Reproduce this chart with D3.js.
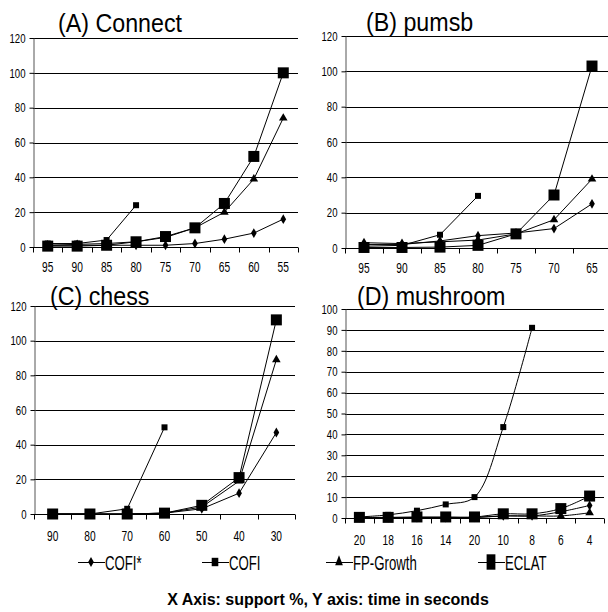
<!DOCTYPE html>
<html>
<head>
<meta charset="utf-8">
<script src="https://cdn.jsdelivr.net/npm/d3@7"></script>
<style>
  body { margin: 0; background: #fff; }
  svg { display: block; }
  text { font-family: "Liberation Sans", Arial, sans-serif; fill: #000; }
</style>
</head>
<body>
<svg id="chart" width="608" height="612"></svg>
<script>
// series names, same order in every panel
const seriesNames = ['COFI*', 'COFI', 'FP-Growth', 'ECLAT'];

// (A) Connect
const connectX = ['95', '90', '85', '80', '75', '70', '65', '60', '55'];
const connectCofiStar = [1, 1, 1, 1, 1, 2, 4.5, 8, 16];
const connectCofi = [2, 2, 4, 24];
const connectFp = [1, 1.5, 2, 3, 5.5, 11, 20, 39, 74];
const connectEclat = [0.5, 0.5, 1, 3, 6, 11, 25, 52, 100];

// (B) pumsb
const pumsbX = ['95', '90', '85', '80', '75', '70', '65'];
const pumsbCofiStar = [2, 2, 4, 7, 8.5, 11, 25];
const pumsbCofi = [1, 1.5, 7.5, 29.5];
const pumsbFp = [3, 2.5, 3.5, 4.5, 8, 16, 39];
const pumsbEclat = [0.3, 0.3, 0.5, 1.5, 8, 30, 103];

// (C) chess
const chessX = ['90', '80', '70', '60', '50', '40', '30'];
const chessCofiStar = [0, 0, 0, 0.5, 3, 12, 47];
const chessCofi = [0, 0, 3, 50];
const chessFp = [0, 0, 0, 0.5, 4, 19, 89];
const chessEclat = [0, 0, 0, 0.5, 5, 21, 112];

// (D) mushroom  (the fifth label really reads "20" in the original)
const mushroomX = ['20', '18', '16', '14', '20', '10', '8', '6', '4'];
const mushroomCofiStar = [0.2, 0.2, 0.2, 0.2, 0.3, 1, 1, 3, 6];
const mushroomCofi = [0.5, 1.5, 3.5, 6.5, 10, 43.5, 91];
const mushroomFp = [0.2, 0.2, 0.2, 0.2, 0.2, 1, 1, 1, 2.5];
const mushroomEclat = [0.3, 0.3, 0.5, 0.5, 0.5, 2, 2, 4.5, 10.5];

const ticks120 = [0, 20, 40, 60, 80, 100, 120];
const ticks100 = [0, 10, 20, 30, 40, 50, 60, 70, 80, 90, 100];

const svg = d3.select('#chart');

// marker shapes for each series
const markers = [
  { type: d3.symbolDiamond, size: 28 },
  { type: d3.symbolSquare, size: 36 },
  { type: d3.symbolTriangle, size: 32 },
  { type: d3.symbolSquare, size: 121 },
];

// text squeezed horizontally like the original picture
function squeezed(parent, x, y, str, size, sx, anchor, weight) {
  return parent.append('text')
    .attr('transform', `translate(${x},${y}) scale(${sx},1)`)
    .attr('text-anchor', anchor || 'start')
    .attr('font-size', size + 'px')
    .attr('font-weight', weight || 'normal')
    .text(str);
}

function drawPanel(p) {
  const g = svg.append('g');
  const x = d3.scaleBand().domain(d3.range(p.labels.length)).range([p.left, p.right]);
  const y = d3.scaleLinear().domain([0, p.ticks[p.ticks.length - 1]]).range([p.bottom, p.top]);
  const cx = (i) => x(i) + x.bandwidth() / 2;
  const y0 = Math.round(y(0)) + 0.5;

  // horizontal grid
  g.selectAll('line.grid')
    .data(p.ticks.filter((t) => t > 0))
    .join('line')
    .attr('class', 'grid')
    .attr('x1', p.left)
    .attr('x2', p.right)
    .attr('y1', (d) => Math.round(y(d)) + 0.5)
    .attr('y2', (d) => Math.round(y(d)) + 0.5)
    .attr('stroke', '#000')
    .attr('stroke-width', 1);

  // y axis
  const yAxis = d3.axisLeft(y).tickValues(p.ticks).tickSize(4).tickSizeOuter(0);
  const ya = g.append('g').attr('transform', `translate(${p.left + 0.5},0)`).call(yAxis);
  ya.attr('font-family', null).attr('font-size', null);
  ya.select('.domain').attr('stroke', '#555');
  ya.selectAll('.tick line').attr('stroke', '#000');
  ya.selectAll('.tick text')
    .attr('font-size', '12px')
    .attr('x', -8 / 0.8)
    .attr('dy', '0.35em')
    .attr('transform', 'scale(0.8,1)');

  // x axis: labels at band centres, ticks at band edges
  const xAxis = d3.axisBottom(x).tickFormat((i) => p.labels[i]).tickSize(0).tickSizeOuter(0);
  const xa = g.append('g').attr('transform', `translate(0,${y0})`).call(xAxis);
  xa.select('.domain').remove();
  xa.attr('font-family', null).attr('font-size', null);
  xa.selectAll('.tick text')
    .attr('font-size', '15px')
    .attr('y', p.labelDy)
    .attr('dy', '0.35em')
    .attr('transform', 'scale(0.68,1)');

  g.append('line')
    .attr('x1', p.left)
    .attr('x2', p.right)
    .attr('y1', y0)
    .attr('y2', y0)
    .attr('stroke', '#000');

  g.selectAll('line.xtick')
    .data(d3.range(p.labels.length + 1))
    .join('line')
    .attr('class', 'xtick')
    .attr('x1', (i) => Math.round(p.left + i * x.step()) + 0.5)
    .attr('x2', (i) => Math.round(p.left + i * x.step()) + 0.5)
    .attr('y1', y0)
    .attr('y2', y0 + 5)
    .attr('stroke', '#000');

  // series
  const line = d3.line()
    .x((d, i) => cx(i))
    .y((d) => y(d))
    .curve(p.curve);

  p.series.forEach((vals, s) => {
    g.append('path')
      .attr('d', line(vals))
      .attr('fill', 'none')
      .attr('stroke', '#000')
      .attr('stroke-width', 1);
    g.selectAll(null)
      .data(vals)
      .join('path')
      .attr('transform', (d, i) => `translate(${cx(i)},${y(d)})`)
      .attr('d', d3.symbol().type(markers[s].type).size(markers[s].size))
      .attr('fill', '#000');
  });

  // panel title
  squeezed(svg, p.titleX, p.titleY, p.title, 25, 0.93);
}

drawPanel({
  title: '(A) Connect', titleX: 58, titleY: 32,
  labels: connectX, ticks: ticks120,
  series: [connectCofiStar, connectCofi, connectFp, connectEclat],
  left: 33, right: 298, top: 38, bottom: 247, labelDy: 19, curve: d3.curveLinear,
});

drawPanel({
  title: '(B) pumsb', titleX: 366, titleY: 31,
  labels: pumsbX, ticks: ticks120,
  series: [pumsbCofiStar, pumsbCofi, pumsbFp, pumsbEclat],
  left: 345, right: 611, top: 36, bottom: 248, labelDy: 19, curve: d3.curveLinear,
});

drawPanel({
  title: '(C) chess', titleX: 50, titleY: 305,
  labels: chessX, ticks: ticks120,
  series: [chessCofiStar, chessCofi, chessFp, chessEclat],
  left: 34, right: 295, top: 306, bottom: 514, labelDy: 21, curve: d3.curveLinear,
});

drawPanel({
  title: '(D) mushroom', titleX: 357, titleY: 305,
  labels: mushroomX, ticks: ticks100,
  series: [mushroomCofiStar, mushroomCofi, mushroomFp, mushroomEclat],
  left: 345, right: 604, top: 309, bottom: 518, labelDy: 21, curve: d3.curveCatmullRom.alpha(0.5),
});

// legend
const legendY = 562;
const legendX = [78, 202, 326, 478];
const legendScale = [[1, 1], [1.1, 1.4], [0.9, 1.35], [0.8, 1.4]];
const legend = svg.append('g');
seriesNames.forEach((name, s) => {
  const lx = legendX[s];
  legend.append('line')
    .attr('x1', lx).attr('x2', lx + 27)
    .attr('y1', legendY + 0.5).attr('y2', legendY + 0.5)
    .attr('stroke', '#000');
  legend.append('path')
    .attr('transform', `translate(${lx + 13},${legendY}) scale(${legendScale[s][0]},${legendScale[s][1]})`)
    .attr('d', d3.symbol().type(markers[s].type).size(markers[s].size))
    .attr('fill', '#000');
  squeezed(legend, lx + 27, legendY + 7.5, name, 20, 0.66);
});

// footer
svg.append('text')
  .attr('x', 328)
  .attr('y', 605)
  .attr('text-anchor', 'middle')
  .attr('font-size', '16px')
  .attr('font-weight', 'bold')
  .text('X Axis: support %, Y axis: time in seconds');
</script>
</body>
</html>
